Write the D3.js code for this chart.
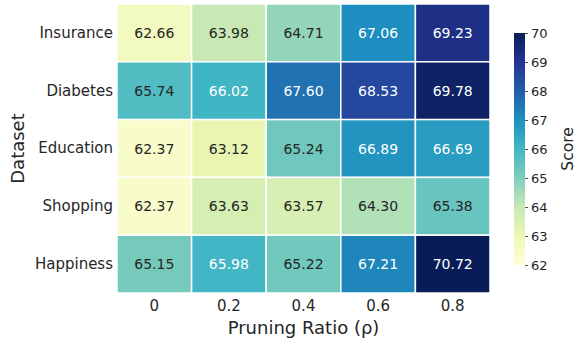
<!DOCTYPE html>
<html>
<head>
<meta charset="utf-8">
<script src="https://cdn.jsdelivr.net/npm/d3@7"></script>
<style>
  html, body { margin: 0; padding: 0; background: #fff; }
  svg { display: block; font-family: "DejaVu Sans", sans-serif; }
</style>
</head>
<body>
<svg id="chart" width="576" height="343"></svg>
<script>
// Datasets (rows) and pruning ratios (columns)
const datasets = ["Insurance", "Diabetes", "Education", "Shopping", "Happiness"];
const ratios = ["0", "0.2", "0.4", "0.6", "0.8"];

// Score per dataset, one value per pruning ratio
const insurance = [62.66, 63.98, 64.71, 67.06, 69.23];
const diabetes  = [65.74, 66.02, 67.60, 68.53, 69.78];
const education = [62.37, 63.12, 65.24, 66.89, 66.69];
const shopping  = [62.37, 63.63, 63.57, 64.30, 65.38];
const happiness = [65.15, 65.98, 65.22, 67.21, 70.72];

const colorbarTicks = [62, 63, 64, 65, 66, 67, 68, 69, 70];
const scoreMin = 62, scoreMax = 70;

const rows = [insurance, diabetes, education, shopping, happiness];
const cells = [];
rows.forEach((vals, r) => vals.forEach((v, c) => cells.push({ row: datasets[r], col: ratios[c], value: v })));

// YlGnBu, linear through the nine ColorBrewer stops
const stops = ["#ffffd9","#edf8b1","#c7e9b4","#7fcdbb","#41b6c4","#1d91c0","#225ea8","#253494","#081d58"];
const color = d3.scaleLinear()
  .domain(stops.map((_, i) => scoreMin + (scoreMax - scoreMin) * i / (stops.length - 1)))
  .range(stops)
  .interpolate(d3.interpolateRgb)
  .clamp(true);

// Pick dark or light annotation text from the cell's relative luminance
function textColor(fill) {
  const c = d3.rgb(fill);
  const lin = v => { v /= 255; return v <= 0.03928 ? v / 12.92 : Math.pow((v + 0.055) / 1.055, 2.4); };
  const lum = 0.2126 * lin(c.r) + 0.7152 * lin(c.g) + 0.0722 * lin(c.b);
  return lum > 0.408 ? "#262626" : "#ffffff";
}

const svg = d3.select("#chart");
const plot = { left: 117, top: 4, right: 490, bottom: 293 };

const x = d3.scaleBand().domain(ratios).range([plot.left, plot.right]);
const y = d3.scaleBand().domain(datasets).range([plot.top, plot.bottom]);

// Cells
svg.append("g").selectAll("rect").data(cells).join("rect")
  .attr("x", d => x(d.col))
  .attr("y", d => y(d.row))
  .attr("width", x.bandwidth())
  .attr("height", y.bandwidth())
  .attr("fill", d => color(d.value))
  .attr("stroke", "#fff")
  .attr("stroke-width", 1.5);

// Annotations
svg.append("g").selectAll("text").data(cells).join("text")
  .attr("x", d => x(d.col) + x.bandwidth() / 2)
  .attr("y", d => y(d.row) + y.bandwidth() / 2)
  .attr("text-anchor", "middle")
  .attr("dominant-baseline", "central")
  .style("font-size", "14px")
  .attr("fill", d => textColor(color(d.value)))
  .text(d => d.value.toFixed(2));

// Axes (labels only, no tick marks)
const xAxis = svg.append("g")
  .attr("transform", `translate(0,${plot.bottom})`)
  .call(d3.axisBottom(x).tickSize(0).tickPadding(7));
xAxis.select(".domain").remove();
xAxis.attr("font-family", null).attr("font-size", null);
xAxis.selectAll("text").style("font-size", "15px").style("font-family", "DejaVu Sans").attr("fill", "#262626");

const yAxis = svg.append("g")
  .attr("transform", `translate(${plot.left},0)`)
  .call(d3.axisLeft(y).tickSize(0).tickPadding(4));
yAxis.select(".domain").remove();
yAxis.attr("font-family", null).attr("font-size", null);
yAxis.selectAll("text").style("font-size", "15px").style("font-family", "DejaVu Sans").attr("fill", "#262626");

svg.append("text")
  .attr("x", (plot.left + plot.right) / 2)
  .attr("y", 334)
  .attr("text-anchor", "middle")
  .style("font-size", "18px")
  .attr("fill", "#262626")
  .text("Pruning Ratio (ρ)");

svg.append("text")
  .attr("transform", `translate(24,${(plot.top + plot.bottom) / 2}) rotate(-90)`)
  .attr("text-anchor", "middle")
  .style("font-size", "18px")
  .attr("fill", "#262626")
  .text("Dataset");

// Colorbar
const cb = { x: 514, w: 11, top: 33, bottom: 265 };
const cbScale = d3.scaleLinear().domain([scoreMin, scoreMax]).range([cb.bottom, cb.top]);
const defs = svg.append("defs");
const grad = defs.append("linearGradient").attr("id", "cbgrad")
  .attr("x1", 0).attr("y1", 1).attr("x2", 0).attr("y2", 0);
stops.forEach((s, i) => grad.append("stop").attr("offset", i / (stops.length - 1)).attr("stop-color", s));
svg.append("rect")
  .attr("x", cb.x).attr("y", cb.top)
  .attr("width", cb.w).attr("height", cb.bottom - cb.top)
  .attr("fill", "url(#cbgrad)");

const cbAxis = svg.append("g")
  .attr("transform", `translate(${cb.x + cb.w},0)`)
  .call(d3.axisRight(cbScale).tickValues(colorbarTicks).tickSize(3).tickPadding(3).tickFormat(d3.format("d")));
cbAxis.select(".domain").remove();
cbAxis.attr("font-family", null).attr("font-size", null);
cbAxis.selectAll("line").attr("stroke", "#262626").attr("stroke-width", 0.8);
cbAxis.selectAll("text").style("font-size", "13px").style("font-family", "DejaVu Sans").attr("fill", "#262626");

svg.append("text")
  .attr("transform", `translate(573,${(cb.top + cb.bottom) / 2}) rotate(-90)`)
  .attr("text-anchor", "middle")
  .style("font-size", "15.5px")
  .attr("fill", "#262626")
  .text("Score");
</script>
</body>
</html>
